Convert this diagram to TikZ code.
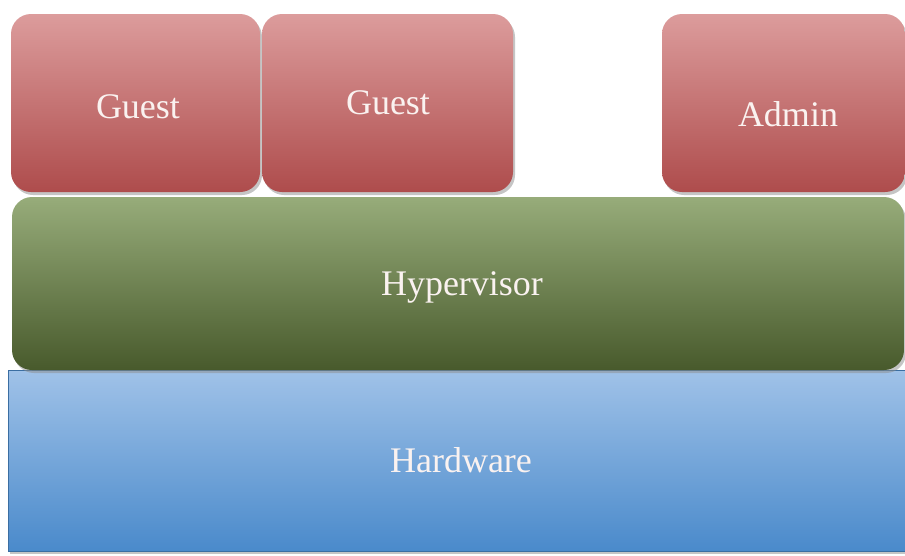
\documentclass[tikz,border=0pt]{standalone}
\usepackage{fontspec}
\setmainfont{Liberation Serif}
\usetikzlibrary{shadows}
\definecolor{redtop}{HTML}{DC9C9C}
\definecolor{redbot}{HTML}{AE4C4C}
\definecolor{greentop}{HTML}{97AC7A}
\definecolor{greenbot}{HTML}{485A2C}
\definecolor{bluetop}{HTML}{A0C2E8}
\definecolor{bluebot}{HTML}{4A8ACB}
\definecolor{txt}{HTML}{FAF2F0}
\tikzset{
  layer/.style={drop shadow={shadow xshift=2pt, shadow yshift=-3pt, fill=black!45, opacity=0.5}},
  vmbox/.style={layer, rounded corners=20pt, top color=redtop, bottom color=redbot},
  hvbox/.style={layer, rounded corners=20pt, top color=greentop, bottom color=greenbot},
  hwbox/.style={layer, top color=bluetop, bottom color=bluebot, draw=bluebot!80!black, line width=0.6pt},
  lbl/.style={text=txt, inner sep=0pt, font=\fontsize{36}{42}\selectfont},
}
\begin{document}
\begin{tikzpicture}[x=1pt,y=-1pt]
\useasboundingbox[fill=white] (0,0) rectangle (905,555);
\path[hwbox] (8,370) rectangle (905,551);
\node[lbl] (hw) at (461,460) {Hardware};
\path[hvbox] (12,197) rectangle (904,370);
\node[lbl] (hv) at (462,287) {Hypervisor};
\path[vmbox] (11,14) rectangle (260,192);
\node[lbl] (g1) at (138,107) {Guest};
\path[vmbox] (262,14) rectangle (513,192);
\node[lbl] (g2) at (388,103) {Guest};
\path[vmbox] (662,14) rectangle (905,192);
\node[lbl] (ad) at (788,114) {Admin};
\end{tikzpicture}
\end{document}
